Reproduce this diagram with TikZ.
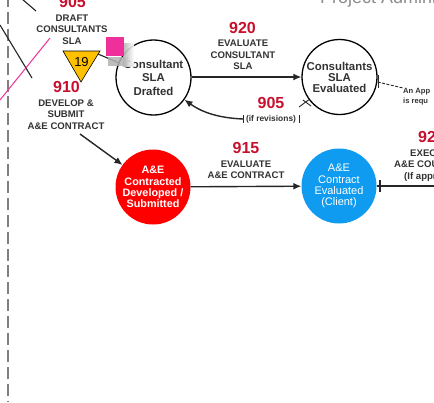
\documentclass[tikz,border=0pt]{standalone}
\usepackage{fontspec}
\setmainfont{Liberation Sans}
\usetikzlibrary{arrows.meta,calc}
\definecolor{numred}{HTML}{C8102E}
\definecolor{pinksq}{HTML}{F0309A}
\definecolor{gold}{HTML}{FFC000}
\definecolor{azure}{HTML}{0F9BF0}
\tikzset{
  x=1pt,y=-1pt,
  num/.style={text=numred,font=\bfseries\fontsize{16}{16}\selectfont,inner sep=0pt},
  lbl/.style={font=\bfseries\fontsize{9.6}{11.3}\selectfont,align=center,inner sep=0pt,text=black!80},
  statecirc/.style={circle,draw=black,line width=1.3pt,minimum size=75pt,inner sep=0pt,align=center,text=black!80},
  fillcirc/.style={circle,minimum size=75pt,inner sep=0pt,align=center,text=white},
  flow/.style={line width=1.4pt,draw=black!85,-{Latex[length=8pt,width=7pt]}},
  small/.style={font=\bfseries\fontsize{7.6}{10}\selectfont,align=left,inner sep=0pt,text=black!80},
  rule/.style={draw=black!85,line width=.9pt}
}
\begin{document}
\begin{tikzpicture}
\useasboundingbox (0,0) rectangle (434,402);
\clip (0,0) rectangle (434,402);
\fill[white] (0,0) rectangle (434,402);
% swimlane border
\coordinate (laneT) at (8,-5);
\coordinate (laneB) at (8,402);
\draw[black!50,line width=2.6pt,dash pattern=on 12pt off 4.9pt] (laneT) -- (laneB);
% stray incoming lines
\coordinate (a1) at (22,-1); \coordinate (a2) at (36,11);
\draw[rule,line width=1.1pt] (a1) -- (a2);
\coordinate (b1) at (0,25); \coordinate (b2) at (32,78);
\draw[rule,line width=1.1pt] (b1) -- (b2);
\coordinate (p1) at (0,100); \coordinate (p2) at (50,38);
\draw[pinksq,line width=1pt] (p1) -- (p2);
% title
\node[anchor=base west,text=black!45,font=\fontsize{18}{18}\selectfont,inner sep=0pt] (title) at (320,3) {Project Administration};
% nodes
\node[statecirc,font=\bfseries\fontsize{11.4}{13.5}\selectfont] (c1) at (153.5,77.5) {Consultant\\SLA\\Drafted};
\node[statecirc,font=\bfseries\fontsize{11.4}{11}\selectfont] (c2) at (339.5,77) {Consultants\\SLA\\Evaluated};
\node[fillcirc,fill=red,font=\bfseries\fontsize{10.8}{11.2}\selectfont] (c3) at (153,187) {A\&E\\Contracted\\Developed /\\Submitted};
\node[fillcirc,fill=azure,font=\fontsize{11}{11.2}\selectfont] (c4) at (339,186) {A\&E\\Contract\\Evaluated\\(Client)};
% triangle
\draw[black,line width=.6pt,fill=gold] (63,51) -- (100,51) -- (81,82) -- cycle;
\node[font=\fontsize{13}{13}\selectfont,inner sep=0pt] (t19) at (81.5,62) {19};
\coordinate (tri) at (98,54);
\draw[rule,line width=1.1pt] (tri) -- (c1);
% blurred patch and pink note
\fill[black!30,opacity=.85] (108,57) rectangle (128,66);
\shade[left color=black!30,right color=white,opacity=.9] (123,43) rectangle (134,66);
\node[fill=pinksq,minimum size=18.5pt,inner sep=0pt] (note) at (115,46.5) {};
% labels left
\node[num] (n905a) at (72.5,2) {905};
\node[lbl] (l905a) at (72,29.5) {DRAFT\\CONSULTANTS\\SLA};
\node[num] (n910) at (66.5,87) {910};
\node[lbl] (l910) at (66,114.5) {DEVELOP \&\\SUBMIT\\A\&E CONTRACT};
% top middle
\node[num] (n920) at (242.5,27.5) {920};
\node[lbl] (l920) at (243,55) {EVALUATE\\CONSULTANT\\SLA};
\node[num] (n905b) at (271,102.5) {905};
\node[font=\bfseries\fontsize{8.4}{9}\selectfont,inner sep=0pt,text=black!80] (l905b) at (271,119) {(if revisions)};
% bottom middle
\node[num] (n915) at (246,148) {915};
\node[lbl] (l915) at (246,169.5) {EVALUATE\\A\&E CONTRACT};
% right
\node[num,anchor=west] (n92) at (418,137) {92};
\node[lbl,anchor=west] (l1) at (410,153) {EXEC};
\node[lbl,anchor=west] (l2) at (394,164.5) {A\&E COU};
\node[lbl,anchor=west] (l3) at (404,177) {(If appr};
\node[small,anchor=west] (note2) at (403,97) {An App\\is requ};
% connectors
\draw[flow] (c1.east |- 0,77) -- (c2.west |- 0,77);
\draw[flow] (c3) -- (c4);
\coordinate (s1) at (80,134);
\draw[flow] (s1) -- (c3);
\coordinate (rv) at (243,119);
\draw[flow] (rv) .. controls (220,118) and (203,113) .. (c1);
\draw[rule] (243,115) -- (243,123);
\draw[rule] (299,115) -- (299,123);
\coordinate (x1) at (299,107);
\draw[rule] (x1) -- (c2);
\draw[rule] (303,100) -- (311,106);
\coordinate (dashend) at (403,88);
\draw[rule,dash pattern=on 3pt off 1.5pt] (c2.east |- 0,82) -- (dashend);
\draw[rule,line width=1pt] (378,75) -- (378,88);
\coordinate (outr) at (434,186);
\draw[draw=black!85,line width=1.4pt] (c4) -- (outr);
\draw[draw=black!85,line width=1.5pt] (380,180) -- (380,192);
\end{tikzpicture}
\end{document}
